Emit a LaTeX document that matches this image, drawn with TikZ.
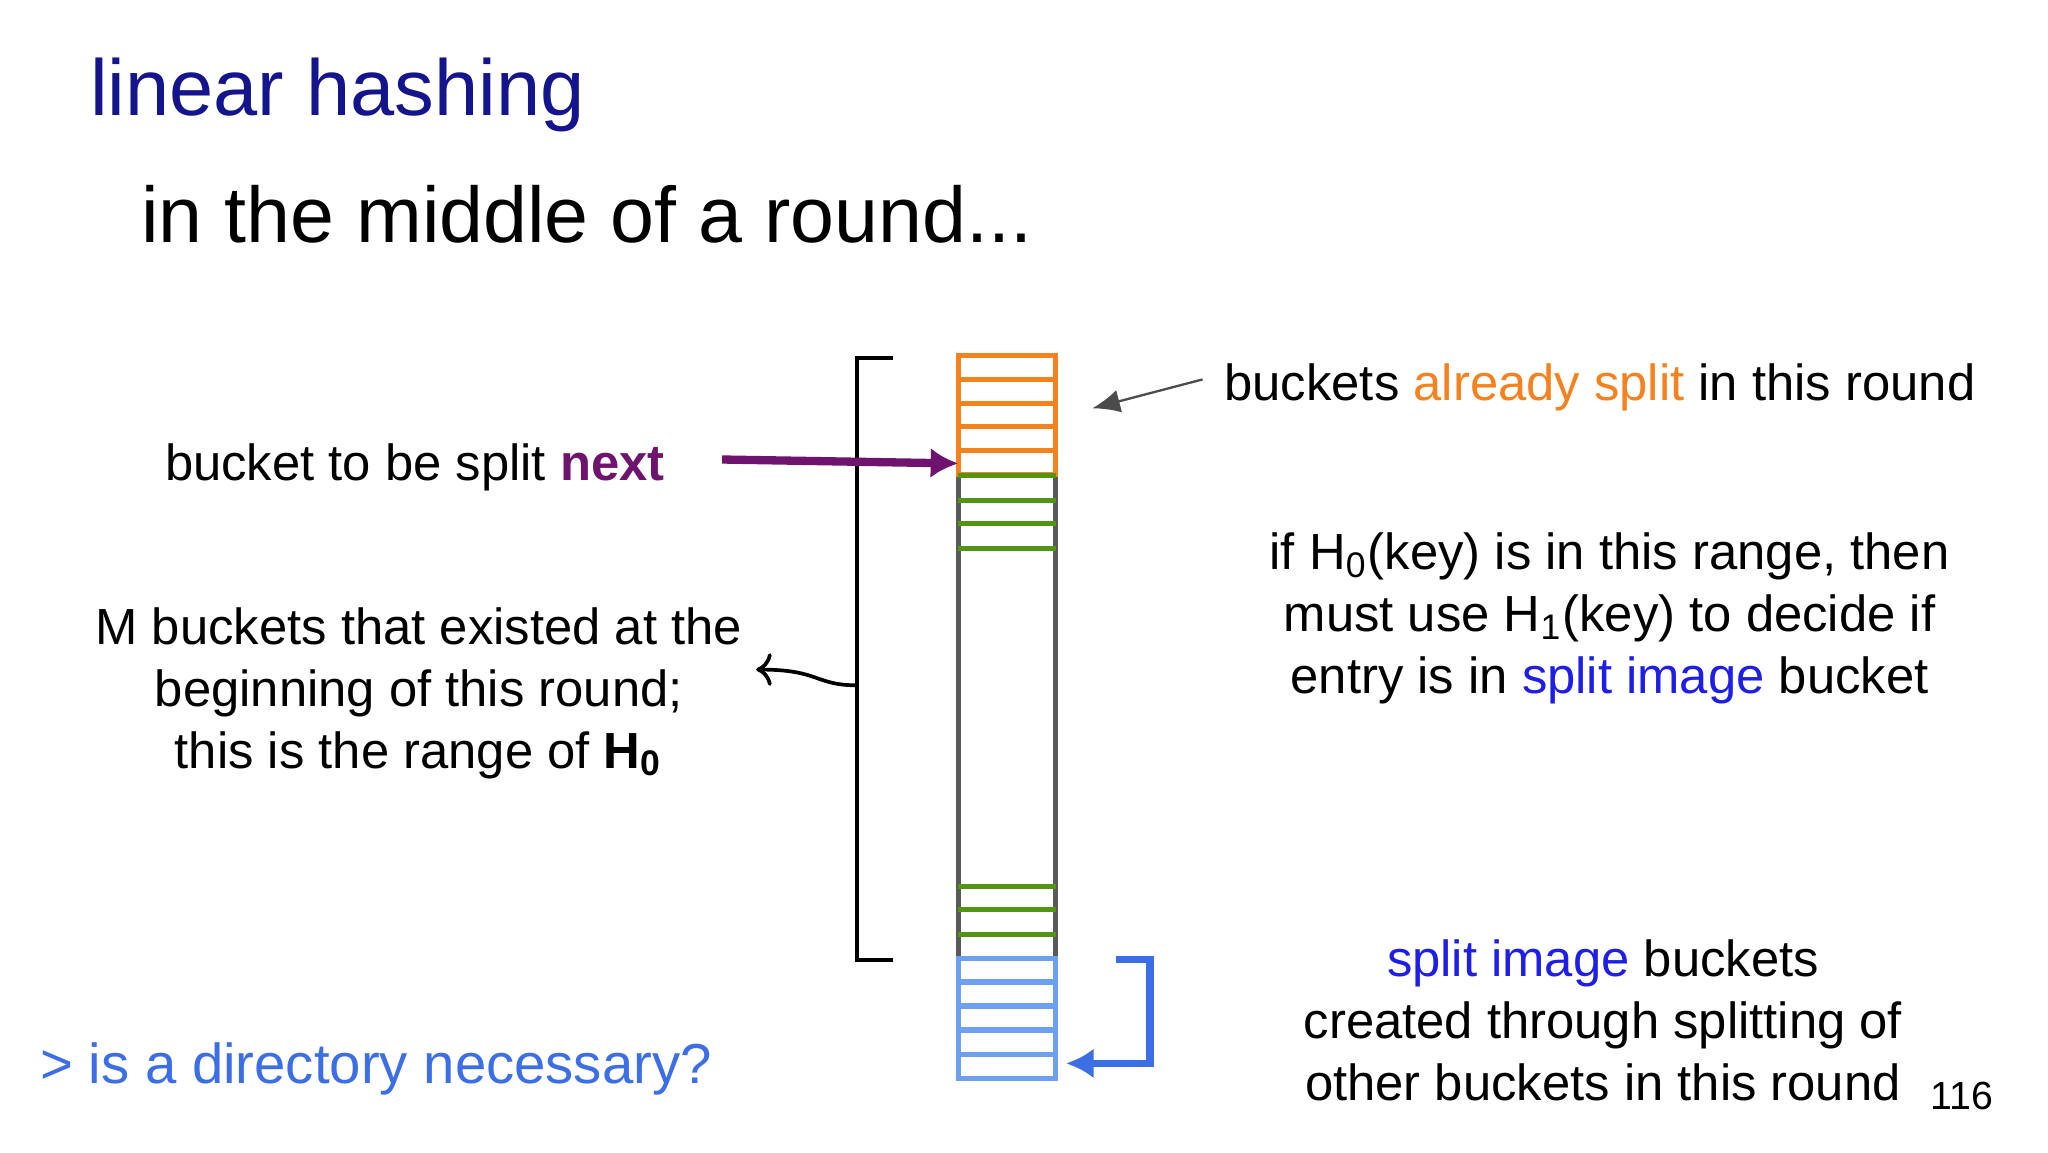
\documentclass[tikz,border=0pt]{standalone}
\usepackage{fontspec}
\usetikzlibrary{arrows.meta}
\setmainfont{Liberation Sans}
\definecolor{ttl}{RGB}{20,20,140}
\definecolor{org}{RGB}{245,130,30}
\definecolor{grn}{RGB}{80,150,20}
\definecolor{lblu}{RGB}{110,160,240}
\definecolor{sblu}{RGB}{30,30,230}
\definecolor{pur}{RGB}{110,20,110}
\definecolor{qblu}{RGB}{60,110,230}
\begin{document}
\begin{tikzpicture}[x=0.01cm,y=-0.01cm,
 body/.style={font=\fontsize{11}{13.4}\selectfont,align=center,inner sep=0},
 cell/.style={line width=1.1pt}]
\useasboundingbox[fill=white] (0,0) rectangle (1560,877.5);
\node[anchor=base west,text=ttl,font=\fontsize{17.2}{20}\selectfont,inner sep=0] (title) at (68,88) {linear hashing};
\node[anchor=base west,font=\fontsize{17.1}{20}\selectfont,inner sep=0] (sub) at (107,185) {in the middle of a round...};
% column
\draw[cell,gray!70!black] (730,362) -- (730,730) (804,362) -- (804,730);
\foreach \y in {271,289,307,325,343} \draw[cell,org] (730,\y) rectangle (804,\y+18.2);
\foreach \y in {362,381,399,418,675,693,712} \draw[cell,grn] (730,\y) -- (804,\y);
\foreach \y in {730,748,766,785,803} \draw[cell,lblu] (730,\y) rectangle (804,\y+18.5);
\coordinate (colL) at (730,353);
\coordinate (colR) at (832,311);
\coordinate (blueT) at (850,731);
\coordinate (blueB) at (812,810);
% bracket
\draw[line width=0.9pt] (680,273) -- (653,273) -- (653,731) -- (680,731);
\coordinate (brmid) at (653,522);
\coordinate (mtxt) at (576,510);
\draw[->,line width=0.8pt] (brmid) .. controls (620,522) and (625,510) .. (mtxt);
% labels
\node[body,anchor=base east] (next) at (507,366) {bucket to be split \textbf{\textcolor{pur}{next}}};
\draw[pur,line width=1.8pt,-{Latex[length=6pt,width=6.5pt]}] (550,350) -- (colL);
\node[body,anchor=base west] (already) at (932,305) {buckets \textcolor{org}{already split} in this round};
\draw[gray!60!black,line width=0.5pt,-{Latex[length=6pt,width=5pt]}] (916,289) -- (colR);
\node[body] (mb) at (319,528) {M buckets that existed at the\\beginning of this round;\\this is the range of \textbf{H\textsubscript{0}}};
\node[body] (ifh) at (1226,471) {if H\textsubscript{0}(key) is in this range, then\\must use H\textsubscript{1}(key) to decide if\\entry is in \textcolor{sblu}{split image} bucket};
\node[body] (si) at (1221,777) {\textcolor{sblu}{split image} buckets\\created through splitting of\\other buckets in this round};
\draw[qblu,line width=1.6pt,-{Latex[length=6pt,width=6.5pt]}] (blueT) -- (876,731) -- (876,810) -- (blueB);
\node[anchor=base west,text=qblu,font=\fontsize{12.2}{14}\selectfont,inner sep=0] (dir) at (30,825) {> is a directory necessary?};
\node[anchor=base west,font=\fontsize{8.5}{10}\selectfont,inner sep=0] (pg) at (1470,845) {116};
\end{tikzpicture}
\end{document}
